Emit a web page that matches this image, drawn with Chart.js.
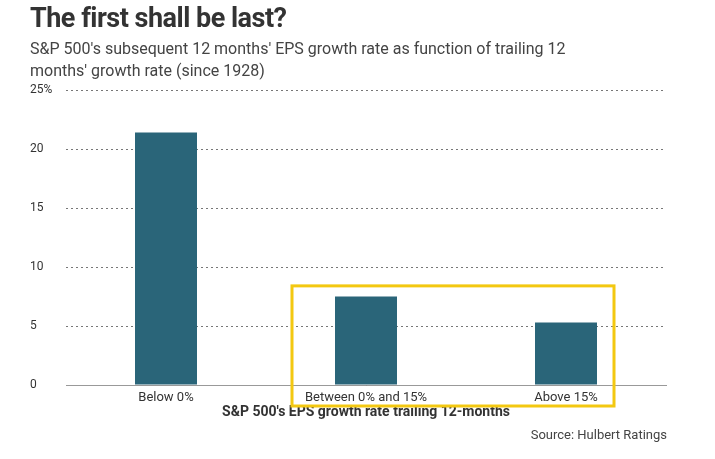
<!DOCTYPE html>
<html><head><meta charset="utf-8">
<script src="https://cdn.jsdelivr.net/npm/chart.js@4"></script>
<style>
body{margin:0;background:#fff;font-family:Roboto,"Liberation Sans",sans-serif;}
#wrap{position:relative;width:715px;height:459px;overflow:hidden;}
canvas{position:absolute;left:0;top:0;}
.t{position:absolute;left:30px;top:2px;font-size:27px;font-weight:700;color:#333;letter-spacing:-0.5px;}
.s{position:absolute;left:30px;top:38px;font-size:16px;line-height:22px;color:#444;width:585px;}
.src{position:absolute;right:48px;top:427px;font-size:13px;color:#444;}
</style></head><body>
<div id="wrap">
<canvas id="c" width="715" height="459"></canvas>
<div class="t">The first shall be last?</div>
<div class="s">S&amp;P 500's subsequent 12 months' EPS growth rate as function of trailing 12 months' growth rate (since 1928)</div>
<div class="src">Source: Hulbert Ratings</div>
</div>
<script>
const categories = ["Below 0%", "Between 0% and 15%", "Above 15%"];
const growthValues = [21.4, 7.5, 5.3];
const tickLabels = {25:"25%",20:"20",15:"15",10:"10",5:"5",0:"0"};

const boxPlugin = {
  id:'box',
  afterDraw(chart){
    const x = chart.scales.x, y = chart.scales.y, ctx = chart.ctx;
    const l = x.getPixelForValue(1) - 74, r = x.getPixelForValue(2) + 48;
    const t = y.getPixelForValue(8.4), b = y.getPixelForValue(0) + 21;
    ctx.save(); ctx.strokeStyle='#f3c811'; ctx.lineWidth=3;
    ctx.strokeRect(l,t,r-l,b-t); ctx.restore();
  }
};

new Chart(document.getElementById('c'), {
  type:'bar',
  data:{labels:categories, datasets:[{data:growthValues, backgroundColor:'#2a6579', barPercentage:0.62, categoryPercentage:0.5}]},
  options:{
    responsive:false, animation:false,
    layout:{padding:{left:30,top:90,right:49,bottom:34}},
    plugins:{legend:{display:false},tooltip:{enabled:false}},
    scales:{
      x:{
        grid:{display:false}, border:{display:true,color:'#999',width:1},
        ticks:{color:'#333',font:{family:'Roboto',size:13},padding:-3},
        title:{display:true,text:"S&P 500's EPS growth rate trailing 12-months",color:'#333',font:{family:'Roboto',size:14,weight:'bold'},padding:{top:0}},
        afterFit(s){s.height=40;}
      },
      y:{
        min:0,max:25,
        border:{display:false,dash:[2,3]},
        grid:{color:'#777',lineWidth:1,drawTicks:false},
        ticks:{stepSize:5,crossAlign:'far',padding:0,color:'#333',font:{family:'Roboto',size:12},callback:v=>tickLabels[v]},
        afterFit(s){s.width=36;}
      }
    }
  },
  plugins:[boxPlugin]
});
</script>
</body></html>
